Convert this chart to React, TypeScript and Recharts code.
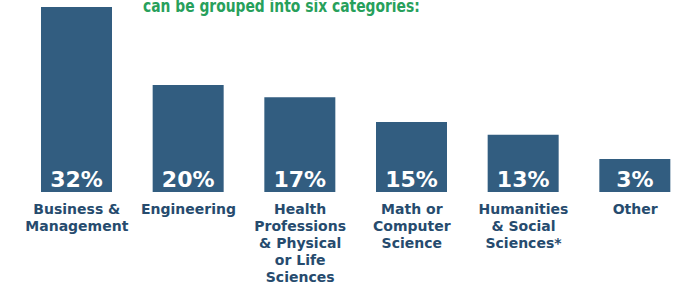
import React from "react";
import { BarChart, Bar, XAxis, YAxis, LabelList } from "recharts";

const title = "can be grouped into six categories:";
const categories = [
  "Business & Management",
  "Engineering",
  "Health Professions & Physical or Life Sciences",
  "Math or Computer Science",
  "Humanities & Social Sciences*",
  "Other",
];
const categoryLines = [
  ["Business &", "Management"],
  ["Engineering"],
  ["Health", "Professions", "& Physical", "or Life", "Sciences"],
  ["Math or", "Computer", "Science"],
  ["Humanities", "& Social", "Sciences*"],
  ["Other"],
];
const shareLabels = ["32%", "20%", "17%", "15%", "13%", "3%"];
// drawn bar heights as they appear in the infographic (not strictly proportional)
const barHeights = [32, 18.5, 16.4, 12.1, 9.9, 5.7];

const data = categories.map((name, i) => ({
  name,
  value: barHeights[i],
  label: shareLabels[i],
}));

const BAR = "#325d80";
const TEXT = "#264b6e";
const GREEN = "#27a05b";
const FONT = "'DejaVu Sans', sans-serif";

const CategoryTick = (props: any) => {
  const { x, y, payload } = props;
  const idx = categories.indexOf(payload.value);
  const lines = idx >= 0 ? categoryLines[idx] : [String(payload.value)];
  return (
    <text
      x={x}
      y={y}
      textAnchor="middle"
      fill={TEXT}
      fontFamily={FONT}
      fontWeight="bold"
      fontSize={14}
    >
      {lines.map((l, i) => (
        <tspan key={i} x={x} y={y + 22 + i * 17}>
          {l}
        </tspan>
      ))}
    </text>
  );
};

const InsideLabel = (props: any) => {
  const { x, y, width, height, value } = props;
  return (
    <text
      x={x + width / 2}
      y={y + height - 5.5}
      textAnchor="middle"
      fill="#ffffff"
      fontFamily={FONT}
      fontWeight="bold"
      fontSize={22}
    >
      {value}
    </text>
  );
};

export default function App() {
  return (
    <div
      style={{
        position: "absolute",
        left: 0,
        top: 0,
        width: 676,
        height: 290,
        overflow: "hidden",
        background: "#ffffff",
      }}
    >
      <BarChart
        width={700}
        height={290}
        data={data}
        margin={{ top: 7, right: 9, left: 21, bottom: 0 }}
      >
        <XAxis
          dataKey="name"
          interval={0}
          axisLine={false}
          tickLine={false}
          tickSize={0}
          tickMargin={0}
          height={98}
          tick={<CategoryTick />}
        />
        <YAxis hide domain={[0, 32]} />
        <Bar dataKey="value" fill={BAR} barSize={71} isAnimationActive={false}>
          <LabelList dataKey="label" content={<InsideLabel />} />
        </Bar>
      </BarChart>
      <div
        style={{
          position: "absolute",
          left: 143,
          top: -3,
          fontFamily: FONT,
          fontWeight: "bold",
          fontSize: 18,
          lineHeight: "18px",
          color: GREEN,
          whiteSpace: "nowrap",
          transform: "scaleX(0.77)",
          transformOrigin: "left top",
        }}
      >
        {title}
      </div>
    </div>
  );
}
